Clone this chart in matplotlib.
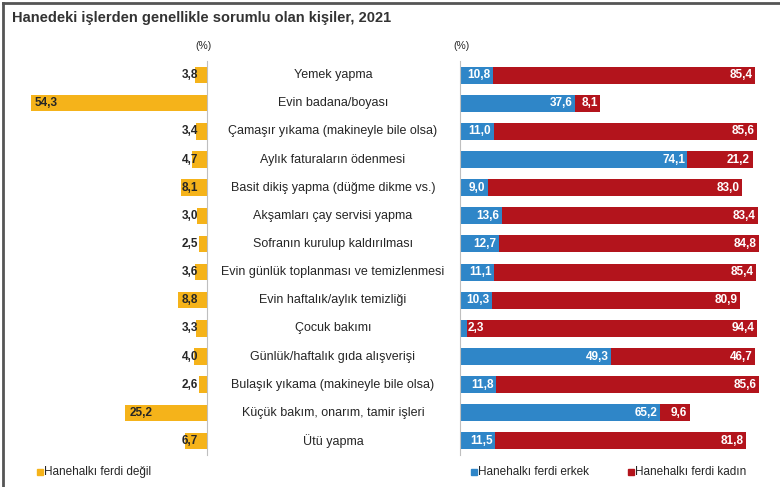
import numpy as np
import matplotlib.pyplot as plt
import matplotlib.transforms as mtransforms
from matplotlib.patches import Rectangle

plt.rcParams['font.family'] = ['Liberation Sans', 'DejaVu Sans']

# Data
tasks = [
    "Yemek yapma",
    "Evin badana/boyası",
    "Çamaşır yıkama (makineyle bile olsa)",
    "Aylık faturaların ödenmesi",
    "Basit dikiş yapma (düğme dikme vs.)",
    "Akşamları çay servisi yapma",
    "Sofranın kurulup kaldırılması",
    "Evin günlük toplanması ve temizlenmesi",
    "Evin haftalık/aylık temizliği",
    "Çocuk bakımı",
    "Günlük/haftalık gıda alışverişi",
    "Bulaşık yıkama (makineyle bile olsa)",
    "Küçük bakım, onarım, tamir işleri",
    "Ütü yapma",
]
not_member = [3.8, 54.3, 3.4, 4.7, 8.1, 3.0, 2.5, 3.6, 8.8, 3.3, 4.0, 2.6, 25.2, 6.7]
male = [10.8, 37.6, 11.0, 74.1, 9.0, 13.6, 12.7, 11.1, 10.3, 2.3, 49.3, 11.8, 65.2, 11.5]
female = [85.4, 8.1, 85.6, 21.2, 83.0, 83.4, 84.8, 85.4, 80.9, 94.4, 46.7, 85.6, 9.6, 81.8]

legend_labels = ["Hanehalkı ferdi değil", "Hanehalkı ferdi erkek", "Hanehalkı ferdi kadın"]

YELLOW = "#F5B31A"
BLUE = "#2F86C8"
RED = "#B3141C"
TXT = "#262626"

def fmt(v):
    return f"{v:.1f}".replace(".", ",")

fig = plt.figure(figsize=(7.8, 4.87), dpi=100)
y = np.arange(len(tasks))

bottom, top = 1 - 455 / 487, 1 - 61 / 487
axl = fig.add_axes([28 / 780, bottom, 179 / 780, top - bottom])
axr = fig.add_axes([460 / 780, bottom, 305 / 780, top - bottom])

# left panel: not a household member
axl.barh(y, not_member, height=0.58, color=YELLOW)
axl.set_xlim(179 / 3.24, 0)
for yi, v in zip(y, not_member):
    if v > 12:
        axl.text(v - 1.2, yi, fmt(v), ha='left', va='center', fontsize=8.5,
                 fontweight='bold', color=TXT)
    else:
        axl.text(2.8, yi, fmt(v), ha='right', va='center', fontsize=8.5,
                 fontweight='bold', color=TXT)

# right panel: male / female members
axr.barh(y, male, height=0.6, color=BLUE)
axr.barh(y, female, left=male, height=0.6, color=RED)
axr.set_xlim(0, 305 / 3.07)
for yi, m, f in zip(y, male, female):
    axr.text(max(m, 8.5) - 0.8, yi, fmt(m), ha='right', va='center', fontsize=8.5,
             fontweight='bold', color='white')
    axr.text(m + f - 0.8, yi, fmt(f), ha='right', va='center', fontsize=8.5,
             fontweight='bold', color='white')

for ax in (axl, axr):
    ax.set_ylim(len(tasks) - 0.5, -0.5)
    ax.set_xticks([])
    ax.set_yticks([])
    for s in ax.spines.values():
        s.set_visible(False)
axl.spines['right'].set_visible(True)
axl.spines['right'].set_color('#BFBFBF')
axr.spines['left'].set_visible(True)
axr.spines['left'].set_color('#BFBFBF')

# category labels in the middle
trans = mtransforms.blended_transform_factory(fig.transFigure, axl.transData)
for yi, t in zip(y, tasks):
    fig.text(333 / 780, yi, t, transform=trans, ha='center', va='center',
             fontsize=9, color=TXT)

# title and units
fig.text(12 / 780, 1 - 18 / 487, "Hanedeki işlerden genellikle sorumlu olan kişiler, 2021",
         ha='left', va='center', fontsize=10.5, fontweight='bold', color='#333333')
fig.text(204 / 780, 1 - 46 / 487, "(%)", ha='center', va='center', fontsize=7.5, color=TXT)
fig.text(462 / 780, 1 - 46 / 487, "(%)", ha='center', va='center', fontsize=7.5, color=TXT)

# legend
leg_y = 1 - 472 / 487
for xpix, col, lab in zip([37, 471, 628], [YELLOW, BLUE, RED], legend_labels):
    fig.add_artist(Rectangle((xpix / 780, leg_y - 3 / 487), 6 / 780, 6 / 487,
                             transform=fig.transFigure, color=col))
    fig.text((xpix + 7) / 780, leg_y, lab, ha='left', va='center', fontsize=8.5, color=TXT)

# frame lines (top and left)
fig.add_artist(plt.Line2D([3 / 780, 1], [1 - 3 / 487, 1 - 3 / 487],
                          transform=fig.transFigure, color='#555555', lw=2))
fig.add_artist(plt.Line2D([3 / 780, 3 / 780], [0, 1 - 3 / 487],
                          transform=fig.transFigure, color='#555555', lw=2))

fig.savefig("out.png", dpi=100)
